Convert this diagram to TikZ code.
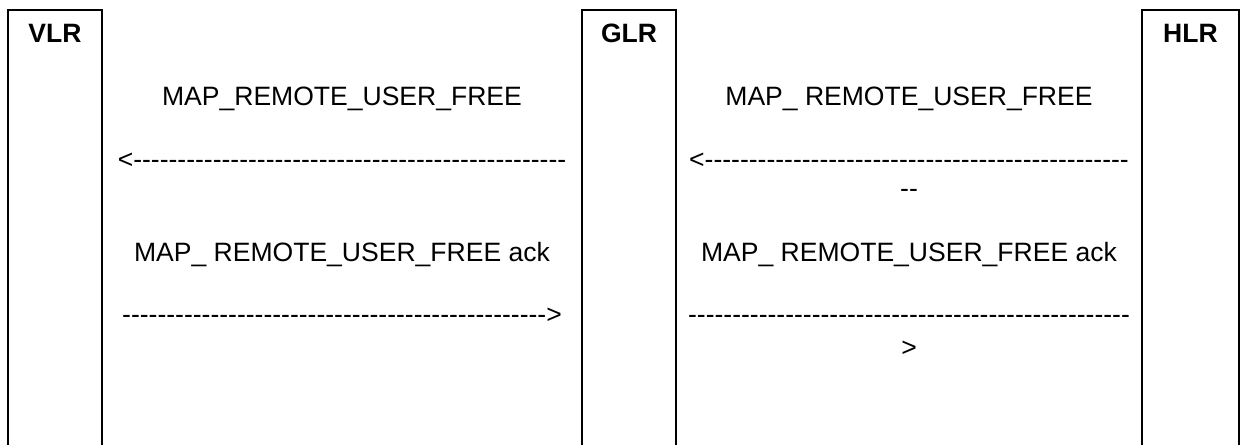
\documentclass[tikz,border=0pt]{standalone}
\usepackage{fontspec}
\setmainfont{Liberation Sans}[Ligatures=TeXOff]
\usepackage{tikz}
\usetikzlibrary{positioning}
\newcommand\msgsize{\fontsize{15.1}{18}\selectfont}
\tikzset{
  lifebox/.style={draw=black, line width=1.2pt},
  entity/.style={anchor=base, inner sep=0pt, font=\msgsize\bfseries},
  msg/.style={anchor=base, inner sep=0pt, font=\msgsize}
}

\begin{document}
\begin{tikzpicture}
  \useasboundingbox (0,0) rectangle (24.82,8.9);
  % participant boxes, open at the bottom
  \draw[lifebox] (0.16,0) |- (2.04,8.7) -- (2.04,0);
  \draw[lifebox] (11.64,0) |- (13.52,8.7) -- (13.52,0);
  \draw[lifebox] (22.84,0) |- (24.78,8.7) -- (24.78,0);
  \node[entity] (vlr) at (1.10,8.04) {VLR};
  \node[entity] (glr) at (12.58,8.04) {GLR};
  \node[entity] (hlr) at (23.81,8.04) {HLR};
  % VLR <-> GLR
  \node[msg] (free1) at (6.84,6.78) {MAP\_REMOTE\_USER\_FREE};
  \node[msg] (back1) at (6.84,5.52)
    {<-------------------------------------------------};
  \node[msg] (ack1) at (6.84,3.66) {MAP\_ REMOTE\_USER\_FREE ack};
  \node[msg] (fwd1) at (6.84,2.42)
    {------------------------------------------------>};
  % GLR <-> HLR
  \node[msg] (free2) at (18.18,6.78) {MAP\_ REMOTE\_USER\_FREE};
  \node[msg] (back2) at (18.18,5.52)
    {<------------------------------------------------};
  \node[msg] (back2b) at (18.18,4.94) {--};
  \node[msg] (ack2) at (18.18,3.66) {MAP\_ REMOTE\_USER\_FREE ack};
  \node[msg] (fwd2) at (18.18,2.42)
    {--------------------------------------------------};
  \node[msg] (fwd2b) at (18.18,1.76) {>};
\end{tikzpicture}
\end{document}
